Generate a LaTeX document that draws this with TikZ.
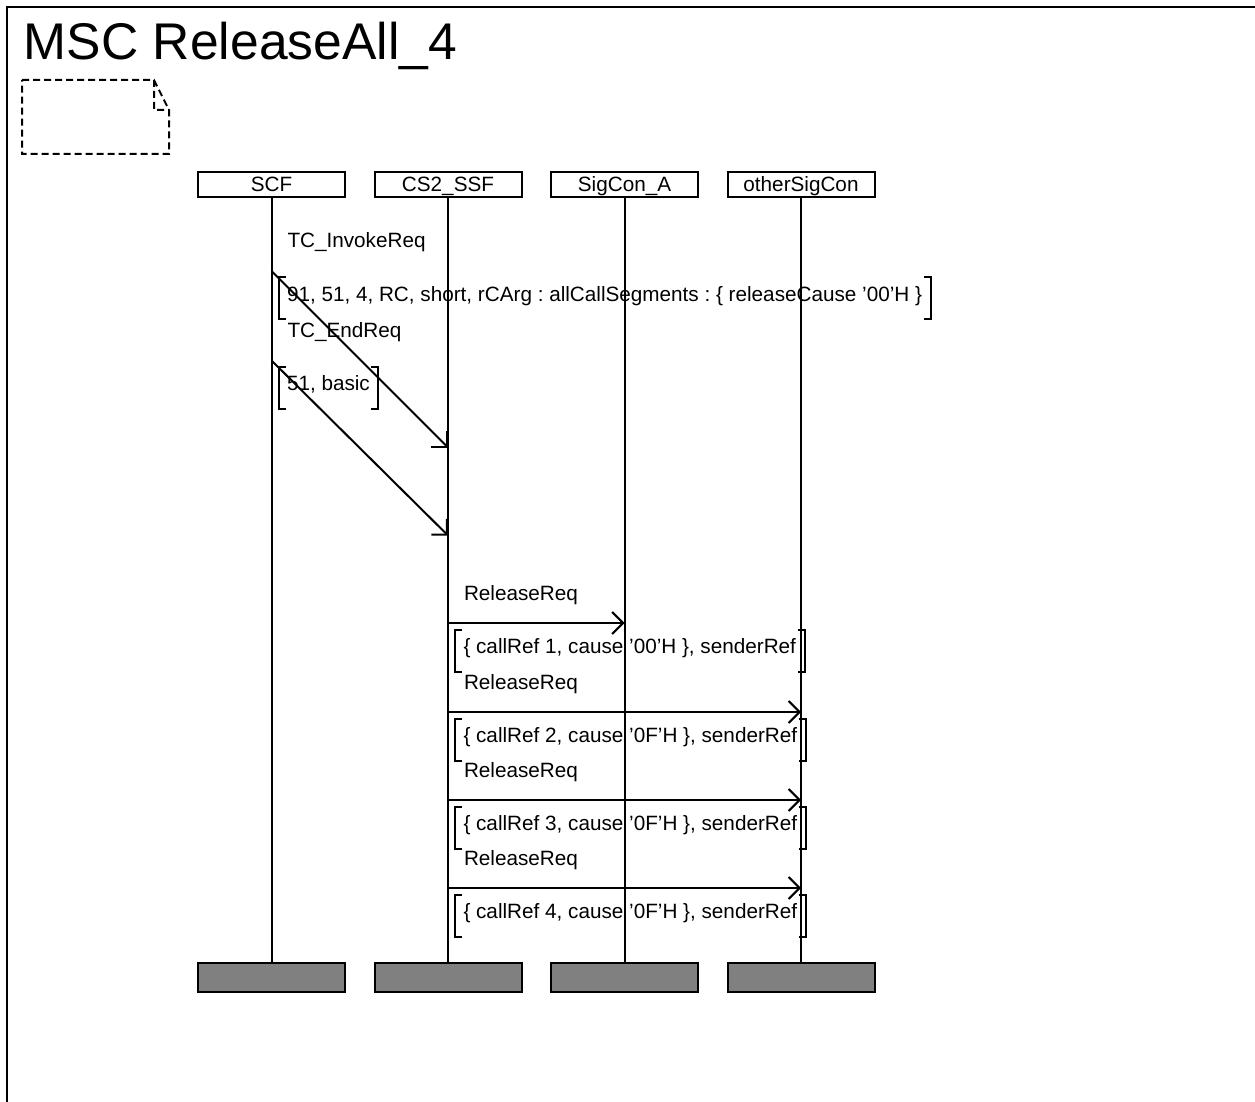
\documentclass[tikz,border=0pt]{standalone}
\usepackage{fontspec}
\setmainfont{Liberation Sans}
\usepackage{tikz}
\usetikzlibrary{arrows.meta, positioning}

\newcommand{\msgsize}{\fontsize{10.35}{12.4}\selectfont}
\newcommand{\prmbrackets}[1]{%
  \draw ([xshift=3.5pt]#1.north west) -| (#1.south west) -- ++(3.5pt,0);
  \draw ([xshift=-3.5pt]#1.north east) -| (#1.south east) -- ++(-3.5pt,0);}

\begin{document}
\frenchspacing
\begin{tikzpicture}[x=0.5pt, y=-0.5pt, line width=1pt, font=\msgsize,
  inst/.style={draw, minimum width=73.5pt, minimum height=12.5pt, inner sep=0pt,
               text height=8.2pt, text depth=1.2pt},
  instend/.style={draw, fill=gray, minimum width=73.5pt, minimum height=14.5pt,
                  inner sep=0pt},
  msg/.style={-{Straight Barb[length=5.5pt, width=11pt]}},
  msglabel/.style={anchor=base west, inner sep=0pt},
  param/.style={anchor=base west, inner xsep=3.75pt, inner ysep=0pt,
                text height=11.25pt, text depth=8.75pt}]
  \useasboundingbox (0,0) rectangle (1255,1102);

  % frame and heading
  \draw (7,1102) |- (1255,7);
  \node[anchor=base west, inner sep=0pt, font=\fontsize{25.8}{31}\selectfont]
    (title) at (23,60) {MSC ReleaseAll\_4};
  \draw[dash pattern=on 3.5pt off 2pt] (22,80) -- (154,80) -- (169,110)
    -- (169,154) -- (22,154) -- cycle (154,80) -- (154,110) -- (169,110);

  % instances
  \node[inst] (scf) at (271.5,184.5) {SCF};
  \node[inst, right=13.75pt of scf] (ssf) {CS2\_SSF};
  \node[inst, right=13.75pt of ssf] (sigA) {SigCon\_A};
  \node[inst, right=13.75pt of sigA] (other) {otherSigCon};
  \node[instend, below=382pt of scf] (scf-end) {};
  \node[instend, right=13.75pt of scf-end] (ssf-end) {};
  \node[instend, right=13.75pt of ssf-end] (sigA-end) {};
  \node[instend, right=13.75pt of sigA-end] (other-end) {};
  \draw (scf) -- (scf-end);
  \draw (ssf) -- (ssf-end);
  \draw (sigA) -- (sigA-end);
  \draw (other) -- (other-end);

  % TC messages
  \coordinate (inv-a) at (scf |- 0,271);
  \coordinate (inv-b) at (ssf |- 0,447.5);
  \coordinate (end-a) at (scf |- 0,360.5);
  \coordinate (end-b) at (ssf |- 0,535.5);
  \draw[msg] (inv-a) -- (inv-b);
  \draw[msg] (end-a) -- (end-b);
  \node[msglabel] (inv-lbl) at ([xshift=7.5pt, yshift=11.5pt]inv-a) {TC\_InvokeReq};
  \node[param] (inv-prm) at ([xshift=3.5pt, yshift=-15pt]inv-a)
    {91, 51, 4, RC, short, rCArg : allCallSegments : \{ releaseCause ’00’H \}};
  \prmbrackets{inv-prm}
  \node[msglabel] (end-lbl) at ([xshift=7.5pt, yshift=11.5pt]end-a) {TC\_EndReq};
  \node[param] (end-prm) at ([xshift=3.5pt, yshift=-15pt]end-a) {51, basic};
  \prmbrackets{end-prm}

  % release requests
  \coordinate (rel1-a) at (ssf |- 0,623);
  \coordinate (rel1-b) at (sigA |- 0,623);
  \coordinate (rel2-a) at (ssf |- 0,712);
  \coordinate (rel2-b) at (other |- 0,712);
  \coordinate (rel3-a) at (ssf |- 0,800);
  \coordinate (rel3-b) at (other |- 0,800);
  \coordinate (rel4-a) at (ssf |- 0,888);
  \coordinate (rel4-b) at (other |- 0,888);
  \draw[msg] (rel1-a) -- (rel1-b);
  \draw[msg] (rel2-a) -- (rel2-b);
  \draw[msg] (rel3-a) -- (rel3-b);
  \draw[msg] (rel4-a) -- (rel4-b);
  \node[msglabel] (rel1-lbl) at ([xshift=7.5pt, yshift=11.5pt]rel1-a) {ReleaseReq};
  \node[param] (rel1-prm) at ([xshift=3.5pt, yshift=-15pt]rel1-a)
    {\{ callRef 1, cause ’00’H \}, senderRef};
  \prmbrackets{rel1-prm}
  \node[msglabel] (rel2-lbl) at ([xshift=7.5pt, yshift=11.5pt]rel2-a) {ReleaseReq};
  \node[param] (rel2-prm) at ([xshift=3.5pt, yshift=-15pt]rel2-a)
    {\{ callRef 2, cause ’0F’H \}, senderRef};
  \prmbrackets{rel2-prm}
  \node[msglabel] (rel3-lbl) at ([xshift=7.5pt, yshift=11.5pt]rel3-a) {ReleaseReq};
  \node[param] (rel3-prm) at ([xshift=3.5pt, yshift=-15pt]rel3-a)
    {\{ callRef 3, cause ’0F’H \}, senderRef};
  \prmbrackets{rel3-prm}
  \node[msglabel] (rel4-lbl) at ([xshift=7.5pt, yshift=11.5pt]rel4-a) {ReleaseReq};
  \node[param] (rel4-prm) at ([xshift=3.5pt, yshift=-15pt]rel4-a)
    {\{ callRef 4, cause ’0F’H \}, senderRef};
  \prmbrackets{rel4-prm}
\end{tikzpicture}
\end{document}
